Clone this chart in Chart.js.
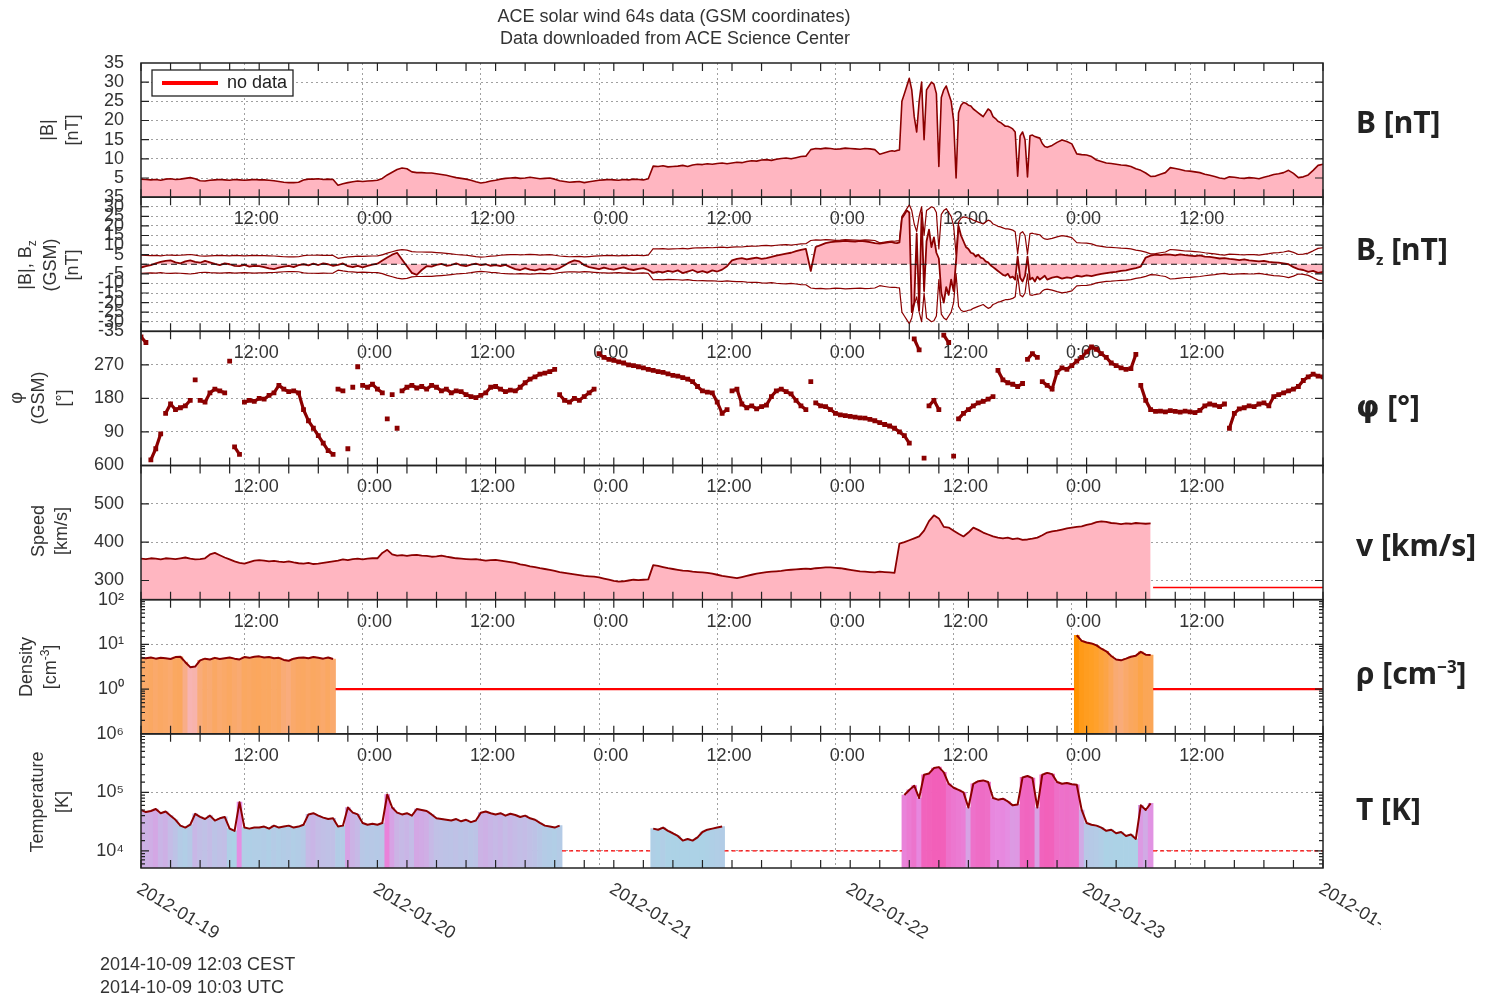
<!DOCTYPE html>
<html lang="en">
<head>
<meta charset="utf-8">
<title>ACE solar wind 64s data</title>
<script src="https://cdn.jsdelivr.net/npm/chart.js@4.4.1/dist/chart.umd.min.js"></script>
<style>
  html, body { margin: 0; padding: 0; background: #fff; }
  #wrap { position: relative; width: 1491px; height: 998px; overflow: hidden;
          font-family: 'Liberation Sans', Arial, sans-serif; color: #333; }
  #wrap canvas { position: absolute; left: 0; top: 0; }
  .t { position: absolute; white-space: nowrap; font-size: 18px; line-height: 1; }
  .c { transform: translate(-50%, -50%); }
  .r { transform: translate(-50%, -50%) rotate(-90deg); }
  .l { transform: translateY(-50%); }
  .side { position: absolute; left: 1356px; transform: translateY(-50%); white-space: nowrap;
          font: bold 30px 'Noto Sans', 'DejaVu Sans', sans-serif; color: #222; line-height: 1; }
  .r sup { font-size: 12px; }
</style>
</head>
<body>
<div id="wrap">
  <canvas id="ace" width="1491" height="998"></canvas>

  <div class="t c" style="left:674px;top:16px">ACE solar wind 64s data (GSM coordinates)</div>
  <div class="t c" style="left:675px;top:38px">Data downloaded from ACE Science Center</div>

  <div class="t r" style="left:47px;top:130px">|B|</div>
  <div class="t r" style="left:72px;top:130px">[nT]</div>
  <div class="t r" style="left:27px;top:265px">|B|, B<sub style="font-size:12px">z</sub></div>
  <div class="t r" style="left:50px;top:265px">(GSM)</div>
  <div class="t r" style="left:72px;top:265px">[nT]</div>
  <div class="t r" style="left:16px;top:398px">φ</div>
  <div class="t r" style="left:38px;top:398px">(GSM)</div>
  <div class="t r" style="left:63px;top:398px">[°]</div>
  <div class="t r" style="left:38px;top:531px">Speed</div>
  <div class="t r" style="left:61px;top:531px">[km/s]</div>
  <div class="t r" style="left:26px;top:667px">Density</div>
  <div class="t r" style="left:49px;top:667px">[cm<sup>-3</sup>]</div>
  <div class="t r" style="left:37px;top:802px">Temperature</div>
  <div class="t r" style="left:62px;top:802px">[K]</div>

  <div class="side" style="top:122px">B [nT]</div>
  <div class="side" style="top:250px">B<sub style="font-size:15px;vertical-align:-5px">z</sub> [nT]</div>
  <div class="side" style="top:406px"><span style="font-family:'DejaVu Sans'">φ</span> [°]</div>
  <div class="side" style="top:545px">v [km/s]</div>
  <div class="side" style="top:673px">ρ [cm<sup style="font-size:17px;vertical-align:11px">−3</sup>]</div>
  <div class="side" style="top:809px">T [K]</div>

  <div class="t l" style="left:100px;top:964px">2014-10-09 12:03 CEST</div>
  <div class="t l" style="left:100px;top:987px">2014-10-09 10:03 UTC</div>
</div>
<script>
// hours counted from 2012-01-19 00:00 UTC; most series sampled every half hour

// |B| [nT]: 0-76 h (30 min), 76.25-92 h (15 min), 92.5-120 h (30 min)
const bHalfA = [
  4.7,4.6,4.5,4.6,4.4,4.7,4.8,4.6,4.7,4.9,5.1,4.8,4.3,4.2,4.4,4.5,4.6,4.5,4.4,4.6,4.5,4.4,4.5,4.6,
  4.5,4.5,4.4,4.3,4.1,3.9,3.8,3.8,3.9,4.5,4.7,4.7,4.8,4.6,4.7,4.6,3.1,3.5,3.8,4.0,4.2,4.1,4.2,4.3,
  4.4,4.9,5.8,6.5,7.2,7.6,7.4,6.6,6.4,6.4,6.3,6.3,6.1,5.9,5.7,5.4,5.1,4.9,4.7,4.4,4.0,3.7,3.9,4.2,
  4.4,4.7,4.9,5.0,5.1,4.9,5.0,5.2,5.0,4.8,4.9,5.0,4.7,4.3,4.1,3.9,4.0,4.1,3.8,4.0,4.2,4.4,4.5,4.6,
  4.5,4.4,4.6,4.5,4.7,4.6,4.5,4.8,8.1,8.0,8.2,7.9,8.0,8.1,8.3,8.0,8.4,8.6,8.5,8.7,8.6,8.8,8.9,8.7,
  8.9,9.1,9.0,9.3,9.5,9.4,9.7,9.8,9.6,9.9,10.1,10.2,10.0,10.3,10.6,10.7,12.4,12.7,12.6,12.8,12.7,12.5,12.6,12.8,
  12.7,12.6,12.5,12.7,12.6,12.4,11.2,11.6,12.0
];
const bQuarter = [
  12.1,12.0,12.2,12.3, 25,27,29,31, 28,21,17,25, 30,15,28,29, 30,29.5,27,8,
  26,28,29,27, 25,20,5,22, 24,24.7,24.5,24, 23.8,23,22.5,22, 21.5,21,22,23,
  22.5,21,20.5,19.8, 19.5,19,18.5,18.5, 18.2,17.8,17,5.5, 16,17,15,5.3,
  16,16.2,15.8,15.6, 15.4,14,13.2,13.0
];
const bHalfB = [
  13.5,14.3,14.9,14.5,13.9,11.3,11.1,11.0,10.6,9.7,9.3,8.9,
  8.8,8.6,8.4,8.3,8.0,7.4,7.0,6.3,5.4,5.5,6.0,6.4,
  7.7,7.5,7.2,6.9,6.8,6.6,6.4,6.0,5.7,5.4,5.0,4.8,
  5.3,5.2,5.0,4.9,5.1,5.0,4.8,5.2,5.5,5.9,6.1,6.4,
  7.0,6.2,5.1,5.3,5.8,7.0,8.3,8.6
];

// Bz GSM [nT], same sampling as |B|
const bzHalfA = [
  -1.7,-1.0,-0.5,0.5,1.2,1.8,2.0,1.0,0.5,1.5,2.0,1.2,0.8,1.8,1.0,0.2,-0.5,0.5,0.0,-0.8,-1.0,-0.3,-1.2,-0.8,
  -1.0,-1.5,-2.2,-2.5,-1.8,-1.2,-0.8,-1.5,-0.5,0.0,-0.6,0.3,-0.4,0.5,0.0,-0.8,-0.3,0.4,-1.0,-1.5,-0.8,-1.6,-0.9,-0.2,
  0.3,2.0,3.5,5.0,6.0,2.5,-1.0,-4.5,-5.5,-3.0,-1.0,-1.2,-0.3,0.2,-0.8,-0.4,0.5,-0.6,-1.0,-0.2,0.3,-0.5,0.0,-0.8,
  -0.5,-1.0,-0.3,-1.5,-2.5,-3.0,-2.0,-2.8,-3.2,-2.5,-3.0,-2.2,-2.8,-2.0,-0.5,1.0,2.0,1.5,-0.5,-1.5,-2.0,-2.6,-1.8,-2.4,
  -2.8,-2.2,-1.6,-2.5,-3.0,-2.4,-2.0,-3.0,-4.5,-3.8,-4.2,-3.5,-4.0,-3.2,-4.6,-3.8,-3.0,-4.2,-3.6,-4.4,-3.2,-3.8,-2.8,-1.0,
  2.0,2.8,3.2,2.5,3.0,3.5,2.8,3.2,3.8,4.5,5.0,5.5,6.0,6.8,7.5,8.0,-3.5,9.0,10.0,11.0,11.5,11.8,12.0,12.2,
  12.0,11.8,12.2,12.0,11.5,11.0,10.8,11.2,11.6
];
const bzQuarter = [
  11.5,11.2,11.0,11.4, 24,26,28,27, -25,-20,16,-24, 27,-14,12,18, 9,14,6,3,
  -15,-20,-12,-16, -8,-14,2,20, 15,12,9,8, 6,5.5,4,5, 3.5,3,1.5,1,
  -0.5,-1.5,-2.5,-3.5, -4.5,-5.5,-6,-5, -7,-6.5,-8,4, -7,-9,-6,4,
  -8,-7,-9,-6.5, -8,-7,-6,-8
];
const bzHalfB = [
  -7.0,-6.5,-7.5,-6.8,-7.2,-6.0,-6.5,-5.8,-6.2,-5.5,-5.0,-4.6,
  -4.2,-4.0,-3.5,-3.2,-2.6,-2.0,-1.2,3.5,4.5,5.0,4.8,5.2,
  5.0,4.6,5.2,4.8,4.5,4.2,4.6,4.0,3.8,3.5,3.0,3.2,
  2.8,2.5,2.2,2.6,2.0,1.8,1.5,1.8,1.2,1.0,0.8,0.5,
  0.0,-1.5,-2.5,-3.0,-4.0,-3.5,-4.5,-4.0
];

// phi GSM [deg], 0-120 h every 30 min
const phiHalf = [
  345,330,15,45,85,140,165,150,155,160,175,230,175,170,195,205,200,195,280,50,30,170,175,172,
  180,178,188,195,215,205,198,200,195,150,120,100,80,60,40,30,205,200,45,210,265,215,210,218,
  205,195,125,190,100,200,210,215,208,212,205,215,210,200,205,195,200,198,190,185,182,188,195,210,
  212,205,198,202,200,210,222,232,238,245,248,252,258,190,175,170,180,175,185,195,205,300,290,285,
  282,278,275,270,268,265,262,258,255,252,250,246,242,240,236,232,225,212,200,197,195,170,140,150,
  200,205,165,155,160,152,158,162,185,200,205,198,192,175,160,150,225,168,160,158,150,140,136,134,
  132,130,128,127,124,120,115,110,106,100,90,80,60,340,310,20,160,175,150,350,330,25,125,140,
  150,160,168,172,178,185,255,230,222,218,212,220,285,300,290,225,215,205,250,262,258,268,280,290,
  305,318,312,300,290,275,268,262,258,260,298,215,175,150,145,146,144,147,145,143,146,144,142,148,
  160,165,162,158,165,100,140,152,155,160,158,165,168,160,185,190,195,200,205,212,228,238,245,240,
  238
];

// solar wind speed [km/s], 0-102.5 h every 30 min
const speedHalf = [
  357,356,358,357,355,358,357,356,358,360,357,355,356,358,368,372,366,360,355,350,346,344,348,352,
  353,352,350,351,349,348,350,347,345,344,346,343,344,346,348,350,352,355,353,356,357,355,357,358,
  358,372,380,368,365,366,364,366,367,365,364,362,363,365,362,360,358,357,356,355,356,354,352,353,
  354,352,350,348,346,342,340,337,335,332,330,328,325,322,320,318,316,314,312,311,310,308,305,302,
  299,297,298,300,302,301,302,303,340,338,335,332,330,328,326,325,323,322,321,320,318,315,312,310,
  308,306,309,312,315,318,320,322,323,324,325,327,328,329,330,331,330,332,333,334,334,333,332,330,
  328,326,324,323,322,321,323,322,321,320,396,400,405,410,415,430,455,470,462,440,438,430,422,415,
  425,438,432,425,420,415,412,410,412,408,410,406,407,409,412,418,425,428,430,433,436,438,440,441,
  445,448,452,454,453,450,449,447,449,448,450,449,448,449
];

// proton density [cm^-3]: 0-19.5 h and 95-102.5 h
const densityA = [
  5.0,4.9,5.1,4.8,5.0,4.9,4.7,5.2,5.3,4.0,3.1,3.2,
  4.4,4.8,4.6,5.0,4.7,4.9,5.1,4.8,4.6,5.2,5.0,5.3,
  5.4,5.1,5.2,4.9,5.0,4.5,4.3,4.8,5.0,5.1,4.9,5.2,
  5.0,4.8,5.1,4.7
];
const densityB = [16,12,11,10.5,9.5,8,7,5.5,4.6,4.4,4.8,5.3,5.6,6.8,5.9,5.8];

// proton temperature [K]: 0-42.5 h, 52-59 h, 77.5-102.5 h
const tempA = [
  50e3,46e3,48e3,52e3,44e3,47e3,40e3,34e3,27e3,25e3,28e3,43e3,
  38e3,35e3,40e3,33e3,36e3,38e3,24e3,22e3,68e3,25e3,24e3,25e3,
  25e3,26e3,24e3,27e3,25e3,26e3,27e3,25e3,26e3,28e3,42e3,44e3,
  40e3,37e3,35e3,36e3,26e3,27e3,55e3,45e3,42e3,30e3,28e3,29e3,
  28e3,30e3,92e3,55e3,45e3,42e3,44e3,40e3,52e3,50e3,48e3,42e3,
  36e3,35e3,34e3,33e3,35e3,32e3,34e3,31e3,33e3,45e3,47e3,44e3,
  42e3,44e3,40e3,43e3,41e3,38e3,40e3,36e3,34e3,30e3,27e3,26e3,
  25e3,27e3
];
const tempB = [24e3,23e3,25e3,22e3,20e3,18e3,15e3,16e3,15e3,17e3,21e3,23e3,24e3,25e3,26e3];
const tempC = [
  90e3,110e3,130e3,80e3,200e3,210e3,260e3,270e3,220e3,140e3,
  120e3,110e3,100e3,55e3,140e3,155e3,160e3,150e3,80e3,75e3,
  78e3,70e3,60e3,62e3,180e3,190e3,175e3,55e3,200e3,215e3,
  205e3,150e3,140e3,145e3,138e3,135e3,50e3,30e3,28e3,27e3,
  25e3,22e3,23e3,20e3,21e3,18e3,19e3,16e3,60e3,50e3,
  65e3
];

// "no data" markers: [from, to] hours and the level they are drawn at
const speedNoData = [[102.75, 120]];
const densityNoData = [[19.75, 94.75], [102.75, 120]];
const tempNoData = [[42.75, 51.75], [59.25, 77.25], [102.75, 120]];
const speedNoDataLevel = 281.5;
const densityNoDataLevel = 1;
const tempNoDataLevel = 1e4;

// axis tick values and labels
const speedTicks = [250, 300, 400, 500, 600];
const clockHours = [12, 24, 36, 48, 60, 72, 84, 96, 108];
const clockLabels = ['12:00', '0:00', '12:00', '0:00', '12:00', '0:00', '12:00', '0:00', '12:00'];
const dayHours = [0, 24, 48, 72, 96, 120];
const dayLabels = ['2012-01-19', '2012-01-20', '2012-01-21', '2012-01-22', '2012-01-23', '2012-01-24'];

Chart.defaults.font.family = "'Liberation Sans', Arial, sans-serif";
Chart.defaults.font.size = 18;
Chart.defaults.color = '#333';

const DARK = '#8b0000';
const PINK = '#ffb6c1';
const NODATA = '#ff0000';
const GRID = '#a0a0a0';
const FONT = "18px 'Liberation Sans', Arial, sans-serif";
const panelIds = ['yB', 'yBz', 'yPhi', 'yV', 'yN', 'yT'];

function seg(start, step, values) {
  return values.map((v, i) => ({ x: start + i * step, y: v }));
}
function withBreaks(...parts) {
  const out = [];
  parts.forEach((p, k) => {
    if (k > 0) out.push({ x: p[0].x - 0.25, y: null });
    out.push(...p);
  });
  return out;
}
function noDataLine(intervals, level) {
  const out = [];
  intervals.forEach(([a, b], k) => {
    if (k > 0) out.push({ x: a - 0.01, y: null });
    out.push({ x: a, y: level }, { x: b, y: level });
  });
  return out;
}
function mix(stops, v) {
  let c = stops[stops.length - 1][1];
  if (v <= stops[0][0]) c = stops[0][1];
  else {
    for (let i = 1; i < stops.length; i++) {
      if (v <= stops[i][0]) {
        const [v0, c0] = stops[i - 1];
        const [v1, c1] = stops[i];
        const f = (v - v0) / (v1 - v0);
        c = c0.map((x, k) => Math.round(x + (c1[k] - x) * f));
        break;
      }
    }
  }
  return 'rgb(' + c.join(',') + ')';
}
const densityStops = [[0.45, [246, 182, 193]], [0.7, [250, 168, 100]], [1.0, [255, 160, 40]], [1.2, [255, 146, 0]]];
const tempStops = [[4.35, [172, 210, 230]], [4.62, [198, 186, 230]], [4.85, [230, 140, 226]], [5.35, [242, 95, 185]]];

const bPoints = [...seg(0, 0.5, bHalfA), ...seg(76.25, 0.25, bQuarter), ...seg(92.5, 0.5, bHalfB)];
const bzPoints = [...seg(0, 0.5, bzHalfA), ...seg(76.25, 0.25, bzQuarter), ...seg(92.5, 0.5, bzHalfB)];
const negBPoints = bPoints.map(p => ({ x: p.x, y: -p.y }));
const densitySegs = [seg(0, 0.5, densityA), seg(95, 0.5, densityB)];
const tempSegs = [seg(0, 0.5, tempA), seg(52, 0.5, tempB), seg(77.5, 0.5, tempC)];

const sup = { '-1': '⁻¹', '0': '⁰', '1': '¹', '2': '²', '3': '³', '4': '⁴', '5': '⁵', '6': '⁶' };
function decade(v) {
  const e = Math.log10(v);
  return Math.abs(e - Math.round(e)) < 1e-6 ? Math.round(e) : null;
}
function gridColor(c) {
  if (!c.tick || !c.scale) return 'transparent';
  const s = c.scale, v = c.tick.value;
  if (v <= s.min || v >= s.max) return 'transparent';
  if (s.type === 'logarithmic' && decade(v) === null) return 'transparent';
  if (s.id === 'yBz' && v === 0) return 'transparent';
  return GRID;
}
function timeGridColor(c) {
  if (!c.tick) return 'transparent';
  const v = c.tick.value;
  return (v % 12 === 0 && v > 0 && v < 120) ? GRID : 'transparent';
}
function panelAxis(range, label, extra) {
  return Object.assign({
    type: 'linear', stack: 'panels', stackWeight: 1, position: 'left', offset: false,
    afterFit: s => { s.width = 141; },
    grid: { color: gridColor, lineWidth: 1, drawTicks: false },
    border: { display: false, dash: [2, 3] },
    ticks: { autoSkip: false, padding: 17, color: '#333', stepSize: range.stepSize, callback: label }
  }, range, extra || {});
}
const decadeLabel = (v, i) => {
  const e = decade(v);
  return i === 0 || e === null ? '' : '10' + sup[String(e)];
};

const barBase = { type: 'bar', order: 3, grouped: false, barPercentage: 1, categoryPercentage: 1, borderWidth: 0 };
const lineBase = { type: 'line', order: 2, pointRadius: 0, borderJoinStyle: 'round', spanGaps: false };

const decor = {
  id: 'decor',
  beforeDatasetsDraw(chart) {
    const { ctx, scales } = chart;
    ctx.save();
    ctx.font = FONT;
    ctx.fillStyle = '#333';
    ctx.textAlign = 'center';
    ctx.textBaseline = 'middle';
    panelIds.slice(1).forEach(id => {
      const top = scales[id].top;
      clockHours.forEach((h, i) => ctx.fillText(clockLabels[i], scales.x.getPixelForValue(h) - 3, top + 22));
    });
    ctx.restore();
  },
  afterDatasetsDraw(chart) {
    const { ctx, chartArea: a, scales } = chart;
    const x = scales.x;
    ctx.save();
    // zero line of the Bz panel
    const z = scales.yBz.getPixelForValue(0);
    ctx.strokeStyle = '#111';
    ctx.lineWidth = 1.2;
    ctx.setLineDash([6, 4]);
    ctx.beginPath(); ctx.moveTo(a.left, z); ctx.lineTo(a.right, z); ctx.stroke();
    ctx.setLineDash([]);
    panelIds.forEach(id => {
      const s = scales[id];
      ctx.strokeStyle = '#222';
      ctx.lineWidth = 1.2;
      ctx.beginPath();
      x.ticks.forEach(t => {
        const px = x.getPixelForValue(t.value);
        ctx.moveTo(px, s.top); ctx.lineTo(px, s.top + 8);
        ctx.moveTo(px, s.bottom); ctx.lineTo(px, s.bottom - 8);
      });
      s.ticks.forEach(t => {
        const py = s.getPixelForValue(t.value);
        if (py <= s.top + 0.5 || py >= s.bottom - 0.5) return;
        const len = (s.type === 'logarithmic' && decade(t.value) === null) ? 4 : 8;
        ctx.moveTo(a.left, py); ctx.lineTo(a.left + len, py);
        ctx.moveTo(a.right, py); ctx.lineTo(a.right - len, py);
      });
      ctx.stroke();
      ctx.lineWidth = 1.5;
      ctx.strokeRect(a.left, s.top, a.right - a.left, s.bottom - s.top);
    });
    // legend box in the top panel
    const lt = scales.yB.top;
    ctx.fillStyle = '#fff';
    ctx.fillRect(a.left + 11, lt + 7, 141, 26);
    ctx.lineWidth = 1.3;
    ctx.strokeRect(a.left + 11, lt + 7, 141, 26);
    ctx.strokeStyle = NODATA;
    ctx.lineWidth = 4;
    ctx.beginPath(); ctx.moveTo(a.left + 21, lt + 20); ctx.lineTo(a.left + 77, lt + 20); ctx.stroke();
    ctx.fillStyle = '#222';
    ctx.font = FONT;
    ctx.textBaseline = 'middle';
    ctx.textAlign = 'left';
    ctx.fillText('no data', a.left + 86, lt + 20);
    // rotated date labels under the bottom panel (the last one is cut off as in the source image)
    ctx.beginPath();
    ctx.rect(0, a.bottom, 1381, chart.height - a.bottom);
    ctx.clip();
    ctx.textBaseline = 'top';
    ctx.fillStyle = '#333';
    dayHours.forEach((h, i) => {
      ctx.save();
      ctx.translate(x.getPixelForValue(h) + 2, a.bottom + 12);
      ctx.rotate(31 * Math.PI / 180);
      ctx.fillText(dayLabels[i], 0, 0);
      ctx.restore();
    });
    ctx.restore();
  }
};

// phi is drawn as dots; neighbouring samples are joined only where the angle changes little
const phiSegmentColor = c => Math.abs(c.p1.parsed.y - c.p0.parsed.y) > 45 ? 'transparent' : DARK;

new Chart(document.getElementById('ace'), {
  type: 'line',
  data: {
    datasets: [
      Object.assign({}, barBase, { data: [].concat(...densitySegs), yAxisID: 'yN',
        backgroundColor: c => (c.raw && c.raw.y) ? mix(densityStops, Math.log10(c.raw.y)) : PINK }),
      Object.assign({}, barBase, { data: [].concat(...tempSegs), yAxisID: 'yT',
        backgroundColor: c => (c.raw && c.raw.y) ? mix(tempStops, Math.log10(c.raw.y)) : PINK }),
      Object.assign({}, lineBase, { data: bPoints, yAxisID: 'yB', fill: 'start',
        backgroundColor: PINK, borderColor: DARK, borderWidth: 1.6 }),
      Object.assign({}, lineBase, { data: bzPoints, yAxisID: 'yBz', fill: 'origin',
        backgroundColor: PINK, borderColor: DARK, borderWidth: 1.8 }),
      Object.assign({}, lineBase, { data: bPoints, yAxisID: 'yBz', borderColor: DARK, borderWidth: 1.2 }),
      Object.assign({}, lineBase, { data: negBPoints, yAxisID: 'yBz', borderColor: DARK, borderWidth: 1.2 }),
      { type: 'line', order: 1, data: seg(0, 0.5, phiHalf), yAxisID: 'yPhi',
        borderColor: DARK, borderWidth: 3.2, segment: { borderColor: phiSegmentColor },
        pointStyle: 'rect', pointRadius: 3.4, pointBorderWidth: 0, pointBackgroundColor: DARK },
      Object.assign({}, lineBase, { data: seg(0, 0.5, speedHalf), yAxisID: 'yV', fill: 'start',
        backgroundColor: PINK, borderColor: DARK, borderWidth: 1.8 }),
      Object.assign({}, lineBase, { data: withBreaks(...densitySegs), yAxisID: 'yN', borderColor: DARK, borderWidth: 2 }),
      Object.assign({}, lineBase, { data: withBreaks(...tempSegs), yAxisID: 'yT', borderColor: DARK, borderWidth: 2 }),
      Object.assign({}, lineBase, { data: noDataLine(speedNoData, speedNoDataLevel), yAxisID: 'yV',
        borderColor: NODATA, borderWidth: 1.5 }),
      Object.assign({}, lineBase, { data: noDataLine(densityNoData, densityNoDataLevel), yAxisID: 'yN',
        borderColor: NODATA, borderWidth: 2.2 }),
      Object.assign({}, lineBase, { data: noDataLine(tempNoData, tempNoDataLevel), yAxisID: 'yT',
        borderColor: NODATA, borderWidth: 1.3, borderDash: [4, 3] })
    ]
  },
  options: {
    responsive: false,
    animation: false,
    events: [],
    layout: { padding: { left: 0, right: 168, top: 63, bottom: 130 } },
    plugins: { legend: { display: false }, tooltip: { enabled: false } },
    scales: {
      x: {
        type: 'linear', min: 0, max: 120, offset: false,
        afterFit: s => { s.height = 0; },
        ticks: { stepSize: 3, display: false },
        grid: { drawTicks: false, lineWidth: 1, color: timeGridColor },
        border: { display: false, dash: [2, 3] }
      },
      // stacked panels, listed from the bottom one upwards
      yT: panelAxis({ type: 'logarithmic', min: 5100, max: 1e6 }, decadeLabel),
      yN: panelAxis({ type: 'logarithmic', min: 0.1, max: 100 }, decadeLabel),
      yV: panelAxis({ min: 250, max: 600 }, v => v > 250 ? String(v) : '',
        { afterBuildTicks: s => { s.ticks = speedTicks.map(v => ({ value: v })); } }),
      yPhi: panelAxis({ min: 0, max: 360, stepSize: 90 }, v => (v > 0 && v < 360) ? String(v) : ''),
      yBz: panelAxis({ min: -35, max: 35, stepSize: 5 }, v => v === 0 ? '' : String(v)),
      yB: panelAxis({ min: 0, max: 35, stepSize: 5 }, v => v > 0 ? String(v) : '')
    }
  },
  plugins: [decor]
});
</script>
</body>
</html>
